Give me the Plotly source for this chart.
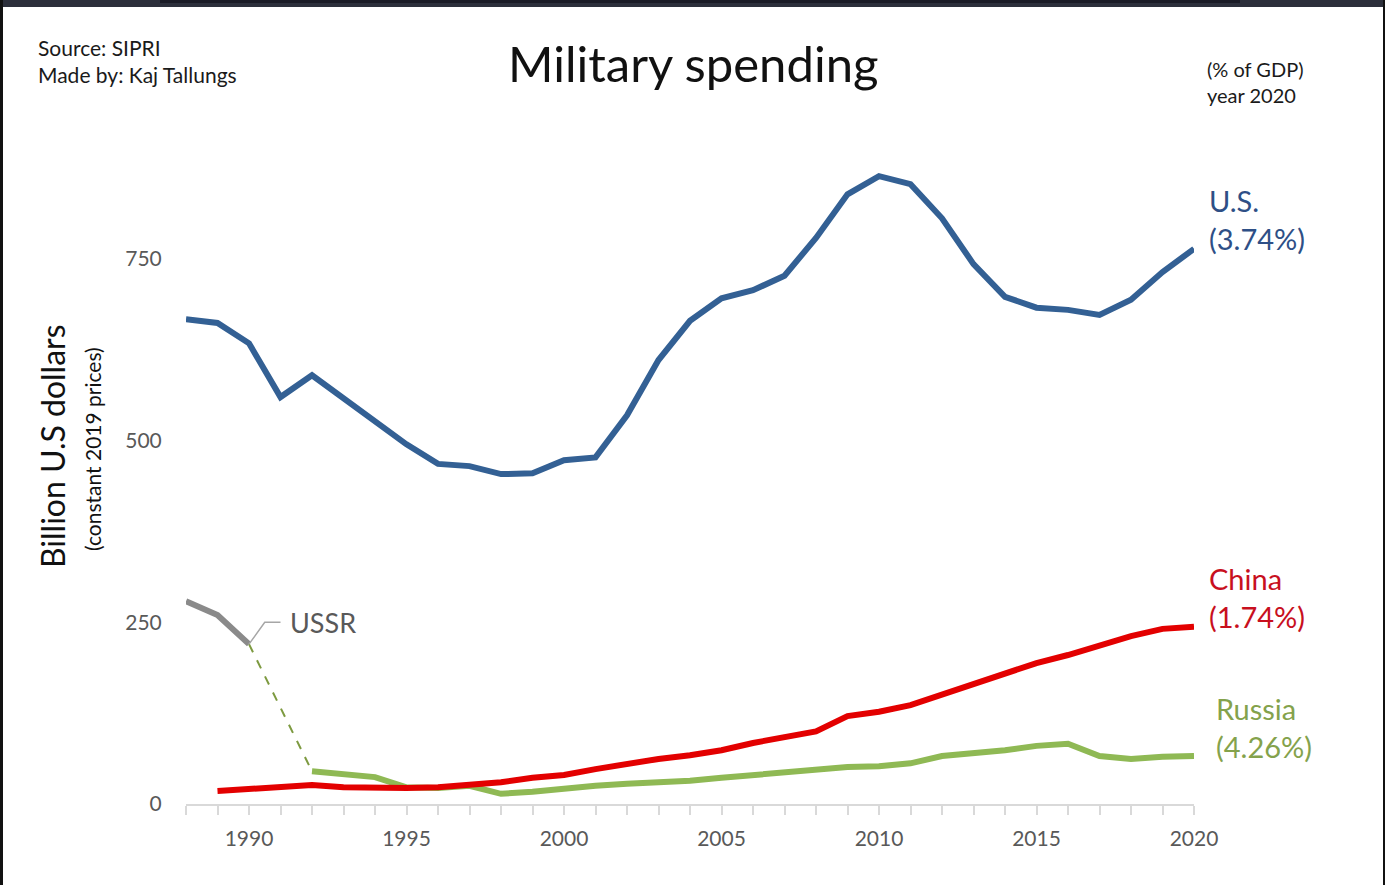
import plotly.graph_objects as go

years_us = list(range(1988, 2021))
us = [667, 662, 634, 560, 590, 559, 528, 495, 468, 465, 454, 455, 473, 477, 535, 611,
      665, 696, 707, 727, 779, 839, 864, 853, 806, 743, 698, 683, 680, 673, 694, 732, 764]

years_china = list(range(1989, 2021))
china = [18, 21, 22, 26, 23, 22, 22, 23, 26, 30, 36, 40, 48, 56, 62, 67, 74, 84, 92, 100,
         121, 127, 136, 151, 165, 179, 194, 205, 219, 231, 241, 244]

years_russia = list(range(1992, 2021))
russia = [45, 40, 37, 23, 22, 25, 14, 17, 22, 25, 28, 29, 32, 36, 40, 44, 48, 51, 52, 56,
          66, 69, 74, 80, 83, 66, 62, 65, 66]

years_ussr = [1988, 1989, 1990]
ussr = [279, 260, 220]

x_ticks = [1990, 1995, 2000, 2005, 2010, 2015, 2020]
y_ticks = [0, 250, 500, 750]

C_US = "#336094"
C_US_T = "#2e4f86"
C_CN = "#e30000"
C_CN_T = "#c8101e"
C_RU = "#8fb954"
C_RU_T = "#84a24c"
C_USSR = "#8a8a8a"
FONT = "Lato"

fig = go.Figure()
fig.add_trace(go.Scatter(x=[years_ussr[-1], years_russia[0]], y=[ussr[-1], russia[0]],
                         mode="lines", line=dict(color="#7d9a40", width=2, dash="dash"),
                         hoverinfo="skip"))
fig.add_trace(go.Scatter(x=years_ussr, y=ussr, mode="lines",
                         line=dict(color=C_USSR, width=6), name="USSR"))
fig.add_trace(go.Scatter(x=years_russia, y=russia, mode="lines",
                         line=dict(color=C_RU, width=6), name="Russia"))
fig.add_trace(go.Scatter(x=years_china, y=china, mode="lines",
                         line=dict(color=C_CN, width=6), name="China"))
fig.add_trace(go.Scatter(x=years_us, y=us, mode="lines",
                         line=dict(color=C_US, width=6), name="U.S."))

# USSR leader line
fig.add_shape(type="path", xref="x", yref="y",
              path=f"M {years_ussr[-1]},{ussr[-1]} L {years_ussr[-1]+0.5},{250} L {years_ussr[-1]+1.0},{250}",
              line=dict(color="#a6a6a6", width=1.5))

# paper coords: px -> (px-186)/1008 ; py -> (804-py)/654
def px(x):
    return (x - 186) / 1008

def py(y):
    return (804 - y) / 654

ann = []
ann.append(dict(x=years_ussr[-1] + 1.25, y=250, xref="x", yref="y", text="USSR",
                showarrow=False, xanchor="left", yanchor="middle",
                font=dict(family=FONT, size=27, color="#595959")))
ann.append(dict(x=px(1207), y=us[-1], xref="paper", yref="y", text="U.S.<br>(3.74%)",
                showarrow=False, xanchor="left", yanchor="bottom", align="left", yshift=-9,
                font=dict(family=FONT, size=29, color=C_US_T)))
ann.append(dict(x=px(1207), y=china[-1], xref="paper", yref="y", text="China<br>(1.74%)",
                showarrow=False, xanchor="left", yanchor="bottom", align="left", yshift=-9,
                font=dict(family=FONT, size=29, color=C_CN_T)))
ann.append(dict(x=px(1214), y=russia[-1], xref="paper", yref="y", text="Russia<br>(4.26%)",
                showarrow=False, xanchor="left", yanchor="bottom", align="left", yshift=-10,
                font=dict(family=FONT, size=29, color=C_RU_T)))

ann.append(dict(x=px(693), y=py(63), xref="paper", yref="paper", text="Military spending",
                showarrow=False, xanchor="center", yanchor="middle",
                font=dict(family=FONT, size=49, color="#111111")))
ann.append(dict(x=px(36), y=py(61), xref="paper", yref="paper",
                text="Source: SIPRI<br>Made by: Kaj Tallungs", showarrow=False,
                xanchor="left", yanchor="middle", align="left",
                font=dict(family=FONT, size=21, color="#1a1a1a")))
ann.append(dict(x=px(1205), y=py(82), xref="paper", yref="paper",
                text="(% of GDP)<br>year 2020", showarrow=False,
                xanchor="left", yanchor="middle", align="left",
                font=dict(family=FONT, size=20, color="#1a1a1a")))
ann.append(dict(x=px(52), y=py(446), xref="paper", yref="paper",
                text="Billion U.S dollars", showarrow=False, textangle=-90,
                xanchor="center", yanchor="middle",
                font=dict(family=FONT, size=32, color="#111111")))
ann.append(dict(x=px(92), y=py(449), xref="paper", yref="paper",
                text="(constant 2019 prices)", showarrow=False, textangle=-90,
                xanchor="center", yanchor="middle",
                font=dict(family=FONT, size=21, color="#111111")))

# frame (dark screenshot border)
shapes = [
    dict(type="rect", xref="paper", yref="paper", x0=px(0), x1=px(1385), y0=py(7), y1=py(0),
         fillcolor="#2c2f3b", line=dict(width=0), layer="above"),
    dict(type="rect", xref="paper", yref="paper", x0=px(160), x1=px(1240), y0=py(3), y1=py(0),
         fillcolor="#1a1b26", line=dict(width=0), layer="above"),
    dict(type="rect", xref="paper", yref="paper", x0=px(0), x1=px(3), y0=py(885), y1=py(0),
         fillcolor="#111111", line=dict(width=0), layer="above"),
    dict(type="rect", xref="paper", yref="paper", x0=px(1383), x1=px(1385), y0=py(885), y1=py(0),
         fillcolor="#111111", line=dict(width=0), layer="above"),
]
for s in shapes:
    fig.add_shape(**s)

fig.update_layout(
    width=1385, height=885,
    margin=dict(l=186, r=191, t=150, b=81),
    paper_bgcolor="white", plot_bgcolor="white",
    showlegend=False,
    annotations=ann,
    font=dict(family=FONT),
    xaxis=dict(range=[1988, 2020], tickvals=x_ticks, ticktext=[str(v) for v in x_ticks],
               showgrid=False, zeroline=False, showline=True, linecolor="#d9d9d9", linewidth=2,
               ticks="outside", ticklen=9, tickwidth=1.5, tickcolor="#d9d9d9",
               ticklabelstandoff=6,
               minor=dict(dtick=1, tick0=1988, ticks="outside", ticklen=9, tickwidth=1.5,
                          tickcolor="#d9d9d9", showgrid=False),
               tickfont=dict(family=FONT, size=21, color="#595959"), fixedrange=True),
    yaxis=dict(range=[0, 900], tickvals=y_ticks, ticktext=[str(v) for v in y_ticks],
               showgrid=False, zeroline=False, showline=False, ticks="outside", ticklen=19,
               tickcolor="rgba(0,0,0,0)",
               tickfont=dict(family=FONT, size=21, color="#595959"), fixedrange=True),
)

fig.write_html("out.html")
